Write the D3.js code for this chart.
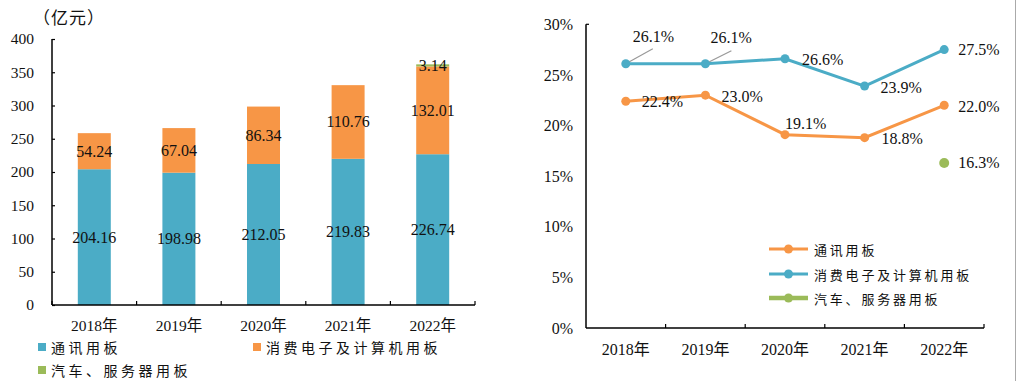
<!DOCTYPE html>
<html><head><meta charset="utf-8">
<script src="https://cdn.jsdelivr.net/npm/d3@7"></script>
<style>
body{margin:0;background:#fff;}
svg text{font-family:"Liberation Serif","Noto Sans CJK SC",serif;fill:#111;}
.cn{font-family:"Noto Sans CJK SC",sans-serif;}
</style></head><body>
<svg id="c" width="1016" height="381"></svg>
<script>
const years = ["2018年","2019年","2020年","2021年","2022年"];
const telecom = [204.16,198.98,212.05,219.83,226.74];
const consumer = [54.24,67.04,86.34,110.76,132.01];
const auto = [0,0,0,0,3.14];
const leftTicks = [0,50,100,150,200,250,300,350,400];
const seriesNames = ["通讯用板","消费电子及计算机用板","汽车、服务器用板"];
const marginTelecom = [22.4,23.0,19.1,18.8,22.0];
const marginConsumer = [26.1,26.1,26.6,23.9,27.5];
const marginAuto = [null,null,null,null,16.3];
const rightTicks = [0,5,10,15,20,25,30];

const BLUE="#4BACC6", ORANGE="#F79646", GREEN="#9BBB59";
const svg = d3.select("#c");
svg.append("rect").attr("width",1016).attr("height",381).attr("fill","#fff");

// ---------- Left chart ----------
const x1 = d3.scaleBand().domain(years).range([52,475]).paddingInner(0.61).paddingOuter(0.305);
const y1 = d3.scaleLinear().domain([0,400]).range([305,39]);
const L = svg.append("g");
const stacks = [telecom, consumer, auto];
const cols = [BLUE, ORANGE, GREEN];
years.forEach((yr,i)=>{
  let base=0;
  stacks.forEach((s,k)=>{
    const v=s[i];
    if(v>0){
      L.append("rect").attr("x",x1(yr)).attr("width",x1.bandwidth())
       .attr("y",y1(base+v)).attr("height",y1(base)-y1(base+v)).attr("fill",cols[k]);
      L.append("text").attr("x",x1(yr)+x1.bandwidth()/2).attr("y",y1(base+v/2))
       .attr("text-anchor","middle").attr("dominant-baseline","central")
       .attr("font-size",16).text(d3.format(".2f")(v));
    }
    base+=v;
  });
});
// axes
const ax1 = L.append("g").attr("transform","translate(52,0)")
  .call(d3.axisLeft(y1).tickValues(leftTicks).tickSize(-3).tickPadding(18));
ax1.select(".domain").attr("stroke","#000").attr("stroke-width",1.5).attr("d","M0,305V39");
ax1.selectAll(".tick line").attr("stroke","#000").attr("stroke-width",1.2);
ax1.selectAll(".tick text").attr("font-size",15.5).attr("fill","#111").attr("font-family","Liberation Serif");
const bx1 = L.append("g").attr("transform","translate(0,305)");
bx1.append("line").attr("x1",52).attr("x2",475).attr("stroke","#000").attr("stroke-width",1.5);
const step1 = x1.step();
d3.range(6).forEach(j=>{
  const xx = 52 + j*step1;
  bx1.append("line").attr("x1",xx).attr("x2",xx).attr("y1",0).attr("y2",-4).attr("stroke","#000").attr("stroke-width",1.2);
});
years.forEach(yr=>{
  bx1.append("text").attr("x",x1(yr)+x1.bandwidth()/2).attr("y",20).attr("text-anchor","middle")
   .attr("dominant-baseline","central").attr("font-size",15.5).text(yr);
});
L.append("text").attr("class","cn").attr("x",33).attr("y",16).attr("dominant-baseline","central")
 .attr("font-size",17).attr("letter-spacing",1).text("（亿元）");
// legend
const lg1 = [{x:38,y:347,c:BLUE,t:seriesNames[0]},{x:253,y:347,c:ORANGE,t:seriesNames[1]},{x:38,y:370,c:GREEN,t:seriesNames[2]}];
lg1.forEach(d=>{
  L.append("rect").attr("x",d.x).attr("y",d.y-4).attr("width",8).attr("height",8).attr("fill",d.c);
  L.append("text").attr("class","cn").attr("x",d.x+13).attr("y",d.y).attr("dominant-baseline","central")
   .attr("font-size",14).attr("letter-spacing",3.5).text(d.t);
});

// ---------- Right chart ----------
const x2 = d3.scaleBand().domain(years).range([586,984]);
const cx = yr => x2(yr)+x2.bandwidth()/2;
const y2 = d3.scaleLinear().domain([0,30]).range([328,24.3]);
const R = svg.append("g");
const ax2 = R.append("g").attr("transform","translate(586,0)")
  .call(d3.axisLeft(y2).tickValues(rightTicks).tickSize(0).tickPadding(13).tickFormat(d=>d+"%"));
ax2.select(".domain").attr("stroke","#000").attr("stroke-width",1.5).attr("d","M0,328V24.3");
ax2.selectAll(".tick line").remove();
ax2.append("line").attr("x1",0).attr("x2",3).attr("y1",24.3).attr("y2",24.3).attr("stroke","#000").attr("stroke-width",1.2);
ax2.selectAll(".tick text").attr("font-size",16).attr("fill","#111").attr("font-family","Liberation Serif");
const bx2 = R.append("g").attr("transform","translate(0,328)");
bx2.append("line").attr("x1",586).attr("x2",984).attr("stroke","#000").attr("stroke-width",1.5);
d3.range(1,6).forEach(j=>{
  const xx = 586 + j*x2.step();
  bx2.append("line").attr("x1",xx).attr("x2",xx).attr("y1",0).attr("y2",-4).attr("stroke","#000").attr("stroke-width",1.2);
});
years.forEach(yr=>{
  bx2.append("text").attr("x",cx(yr)).attr("y",21).attr("text-anchor","middle")
   .attr("dominant-baseline","central").attr("font-size",16).text(yr);
});
// leader lines for 2018/2019 blue labels
const leaders = [[0,27,-15],[1,26,-13]];
leaders.forEach(([i,dx,dy])=>{
  R.append("line").attr("x1",cx(years[i])).attr("y1",y2(marginConsumer[i]))
   .attr("x2",cx(years[i])+dx).attr("y2",y2(marginConsumer[i])+dy).attr("stroke","#999").attr("stroke-width",1.2);
});
const line = d3.line().defined(d=>d.v!=null).x(d=>cx(d.yr)).y(d=>y2(d.v));
const lines = [
  {vals:marginTelecom, c:ORANGE, off:[[16,0],[16,1],[0,-11],[17,1],[14,1]]},
  {vals:marginConsumer, c:BLUE, off:[[7,-27],[5,-26],[17,1],[16,1],[14,0]]},
];
lines.forEach(s=>{
  const pts = years.map((yr,i)=>({yr,v:s.vals[i]}));
  R.append("path").datum(pts).attr("d",line).attr("fill","none").attr("stroke",s.c).attr("stroke-width",3);
  pts.forEach((p,i)=>{
    R.append("circle").attr("cx",cx(p.yr)).attr("cy",y2(p.v)).attr("r",4.5).attr("fill",s.c);
  });
});
lines.forEach(s=>{
  years.forEach((yr,i)=>{
    R.append("text").attr("x",cx(yr)+s.off[i][0]).attr("y",y2(s.vals[i])+s.off[i][1])
     .attr("dominant-baseline","central").attr("font-size",16).text(s.vals[i].toFixed(1)+"%");
  });
});
years.forEach((yr,i)=>{
  if(marginAuto[i]!=null){
    R.append("circle").attr("cx",cx(yr)).attr("cy",y2(marginAuto[i])).attr("r",5).attr("fill",GREEN);
    R.append("text").attr("x",cx(yr)+14).attr("y",y2(marginAuto[i])).attr("dominant-baseline","central")
     .attr("font-size",16).text(marginAuto[i].toFixed(1)+"%");
  }
});
// legend right
const lg2 = [{y:249,c:ORANGE,w:3,t:seriesNames[0]},{y:274,c:BLUE,w:3,t:seriesNames[1]},{y:298,c:GREEN,w:4.5,t:seriesNames[2]}];
lg2.forEach(d=>{
  R.append("line").attr("x1",769).attr("x2",808).attr("y1",d.y).attr("y2",d.y).attr("stroke",d.c).attr("stroke-width",d.w);
  R.append("circle").attr("cx",788.5).attr("cy",d.y).attr("r",4.5).attr("fill",d.c);
  R.append("text").attr("class","cn").attr("x",814).attr("y",d.y).attr("dominant-baseline","central")
   .attr("font-size",13).attr("letter-spacing",2.8).text(d.t);
});
svg.append("line").attr("x1",1015.5).attr("x2",1015.5).attr("y1",0).attr("y2",381).attr("stroke","#aaa").attr("stroke-width",1);
</script>
</body></html>
